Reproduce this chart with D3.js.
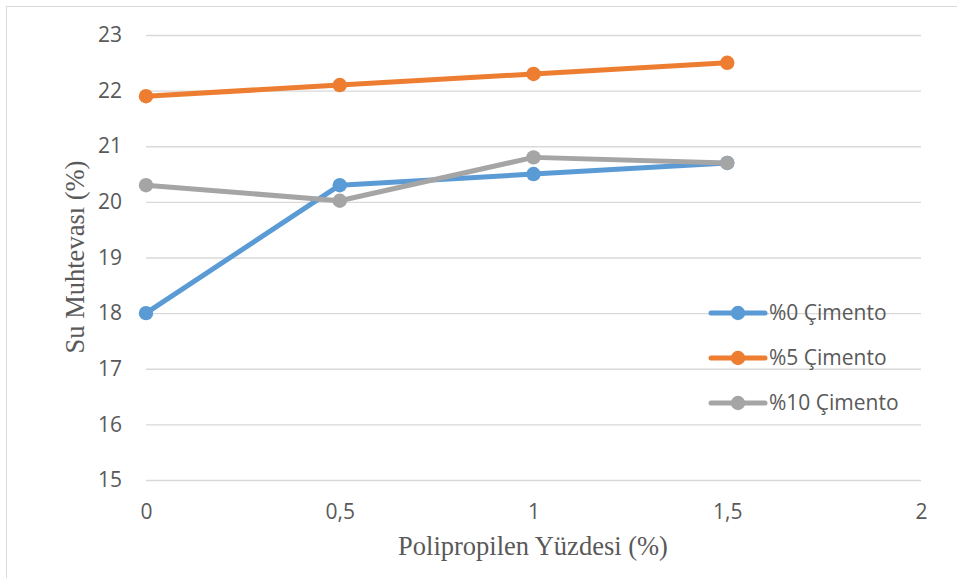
<!DOCTYPE html>
<html>
<head>
<meta charset="utf-8">
<script src="https://cdn.jsdelivr.net/npm/d3@7/dist/d3.min.js"></script>
<style>
  html, body { margin: 0; padding: 0; background: #fff; }
  svg { display: block; }
</style>
</head>
<body>
<svg id="chart" width="957" height="578"></svg>
<script>
// Polipropilen oranı (x) ve su muhtevası serileri
const xValues = [0, 0.5, 1, 1.5];
const cement0 = [18.0, 20.3, 20.5, 20.7];
const cement5 = [21.9, 22.1, 22.3, 22.5];
const cement10 = [20.3, 20.02, 20.8, 20.7];
const seriesNames = ["%0 Çimento", "%5 Çimento", "%10 Çimento"];
const seriesColors = ["#5B9BD5", "#ED7D31", "#A5A5A5"];
const xTicks = [0, 0.5, 1, 1.5, 2];
const yTicks = [15, 16, 17, 18, 19, 20, 21, 22, 23];
const xTitle = "Polipropilen Yüzdesi (%)";
const yTitle = "Su Muhtevası (%)";

const series = [cement0, cement5, cement10].map((vals, i) => ({
  name: seriesNames[i],
  color: seriesColors[i],
  points: xValues.map((x, j) => ({ x, y: vals[j] }))
}));

const svg = d3.select("#chart");
const W = 957, H = 578;

// outer chart frame (top and left edges visible)
svg.append("rect")
  .attr("x", 6.5).attr("y", 6.5)
  .attr("width", W + 10).attr("height", H + 10)
  .attr("fill", "#fff").attr("stroke", "#d9d9d9").attr("stroke-width", 1);

const plot = { left: 146, right: 921, top: 35, bottom: 480 };

const x = d3.scaleLinear().domain([0, 2]).range([plot.left, plot.right]);
const y = d3.scaleLinear().domain([15, 23]).range([plot.bottom, plot.top]);

const tickFont = "'Open Sans', 'Noto Sans', sans-serif";
const titleFont = "'Liberation Serif', 'DejaVu Serif', serif";
const tickSize = 21;

// horizontal gridlines + y labels
const yAxis = d3.axisLeft(y).tickValues(yTicks).tickSize(-(plot.right - plot.left)).tickPadding(24)
  .tickFormat(d3.format("d"));
const gy = svg.append("g").attr("transform", `translate(${plot.left},0)`).call(yAxis);
gy.select(".domain").remove();
gy.selectAll(".tick line").attr("stroke", "#d9d9d9").attr("stroke-width", 1.3);
gy.selectAll(".tick text")
  .attr("fill", "#595959").attr("font-family", tickFont).attr("font-size", tickSize);

// x labels
const fmtComma = d => String(d).replace(".", ",");
const xAxis = d3.axisBottom(x).tickValues(xTicks).tickSize(0).tickPadding(24).tickFormat(fmtComma);
const gx = svg.append("g").attr("transform", `translate(0,${plot.bottom})`).call(xAxis);
gx.select(".domain").remove();
gx.selectAll(".tick text")
  .attr("fill", "#595959").attr("font-family", tickFont).attr("font-size", tickSize);

// axis titles
svg.append("text")
  .attr("x", 533).attr("y", 555)
  .attr("text-anchor", "middle")
  .attr("fill", "#595959").attr("font-family", titleFont).attr("font-size", 26.5)
  .text(xTitle);

svg.append("text")
  .attr("transform", "translate(84,257) rotate(-90)")
  .attr("text-anchor", "middle")
  .attr("fill", "#595959").attr("font-family", titleFont).attr("font-size", 26.5)
  .text(yTitle);

// series lines and markers
const line = d3.line().x(d => x(d.x)).y(d => y(d.y));
const gs = svg.append("g");
series.forEach(s => {
  gs.append("path")
    .attr("d", line(s.points))
    .attr("fill", "none").attr("stroke", s.color)
    .attr("stroke-width", 5).attr("stroke-linejoin", "round").attr("stroke-linecap", "round");
  gs.selectAll(null).data(s.points).enter().append("circle")
    .attr("cx", d => x(d.x)).attr("cy", d => y(d.y)).attr("r", 7.2)
    .attr("fill", s.color);
});

// legend
const legend = svg.append("g");
series.forEach((s, i) => {
  const ly = 313 + i * 45;
  legend.append("line")
    .attr("x1", 711).attr("x2", 765).attr("y1", ly).attr("y2", ly)
    .attr("stroke", s.color).attr("stroke-width", 5).attr("stroke-linecap", "round");
  legend.append("circle").attr("cx", 738).attr("cy", ly).attr("r", 7.2).attr("fill", s.color);
  legend.append("text")
    .attr("x", 769).attr("y", ly).attr("dy", "0.35em")
    .attr("fill", "#595959").attr("font-family", tickFont).attr("font-size", tickSize)
    .text(s.name);
});
</script>
</body>
</html>
